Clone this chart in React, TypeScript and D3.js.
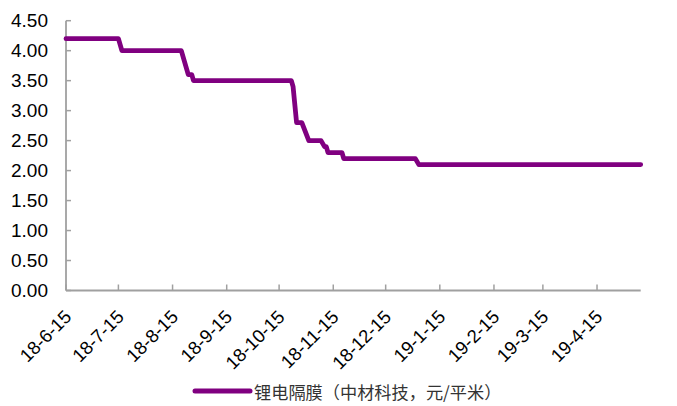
import React from "react";
import * as d3 from "d3";

const dates: string[] = [
  "2018-06-15", "2018-07-15", "2018-07-17", "2018-08-20", "2018-08-24",
  "2018-08-26", "2018-08-27", "2018-10-22", "2018-10-23", "2018-10-25",
  "2018-10-28", "2018-11-01", "2018-11-08", "2018-11-10", "2018-11-11",
  "2018-11-12", "2018-11-20", "2018-11-21", "2019-01-01", "2019-01-03",
  "2019-05-10",
];
const prices: number[] = [
  4.2, 4.2, 4.0, 4.0, 3.6,
  3.6, 3.5, 3.5, 3.4, 2.8,
  2.8, 2.5, 2.5, 2.4, 2.4,
  2.3, 2.3, 2.2, 2.2, 2.1,
  2.1,
];
const tickDates: string[] = [
  "2018-06-15", "2018-07-15", "2018-08-15", "2018-09-15", "2018-10-15",
  "2018-11-15", "2018-12-15", "2019-01-15", "2019-02-15", "2019-03-15",
  "2019-04-15",
];
const yTicks: number[] = [0, 0.5, 1, 1.5, 2, 2.5, 3, 3.5, 4, 4.5];
const seriesName = "锂电隔膜（中材科技，元/平米）";

const W = 677;
const H = 406;
const left = 66;
const right = 640.7;
const top = 20.7;
const bottom = 290.5;

export default function App() {
  const parse = d3.timeParse("%Y-%m-%d");
  const fmt = d3.timeFormat("%y-%-m-%-d");
  const data = dates.map((d, i) => ({ date: parse(d) as Date, value: prices[i] }));
  const x = d3
    .scaleTime()
    .domain([parse(dates[0]) as Date, parse(dates[dates.length - 1]) as Date])
    .range([left, right]);
  const y = d3.scaleLinear().domain([0, 4.5]).range([bottom, top]);
  const line = d3
    .line<{ date: Date; value: number }>()
    .x((d) => x(d.date))
    .y((d) => y(d.value));
  const axisColor = "#a0a0a0";
  const numFont = "'Liberation Sans', Arial, sans-serif";
  return (
    <svg
      width={W}
      height={H}
      style={{ position: "absolute", left: 0, top: 0, background: "#fff" }}
    >
      {/* y axis */}
      <line x1={left} x2={left} y1={top} y2={bottom} stroke={axisColor} strokeWidth={1.8} />
      {yTicks.map((t) => (
        <g key={t}>
          <line x1={left} x2={left + 5} y1={y(t)} y2={y(t)} stroke={axisColor} strokeWidth={1.5} />
          <text
            x={48}
            y={y(t)}
            textAnchor="end"
            dominantBaseline="central"
            fontFamily={numFont}
            fontSize={19}
            fill="#000"
          >
            {t.toFixed(2)}
          </text>
        </g>
      ))}
      {/* x axis */}
      <line x1={left} x2={right} y1={bottom} y2={bottom} stroke={axisColor} strokeWidth={1.8} />
      {tickDates.map((s) => {
        const d = parse(s) as Date;
        const tx = x(d);
        return (
          <g key={s}>
            <line x1={tx} x2={tx} y1={bottom} y2={bottom - 6} stroke={axisColor} strokeWidth={1.5} />
            <text
              transform={`translate(${tx + 2},${bottom + 23}) rotate(-45)`}
              textAnchor="end"
              dominantBaseline="central"
              fontFamily={numFont}
              fontSize={18.5}
              fill="#000"
            >
              {fmt(d)}
            </text>
          </g>
        );
      })}
      {/* series */}
      <path
        d={line(data) || ""}
        fill="none"
        stroke="#800080"
        strokeWidth={4.8}
        strokeLinejoin="round"
        strokeLinecap="round"
      />
      {/* legend */}
      <line x1={195} x2={250} y1={391} y2={391} stroke="#800080" strokeWidth={5} strokeLinecap="round" />
      <text
        x={254}
        y={391}
        dominantBaseline="central"
        fontFamily="'Noto Sans CJK SC', sans-serif"
        fontSize={17.2}
        fill="#333"
      >
        {seriesName}
      </text>
    </svg>
  );
}
